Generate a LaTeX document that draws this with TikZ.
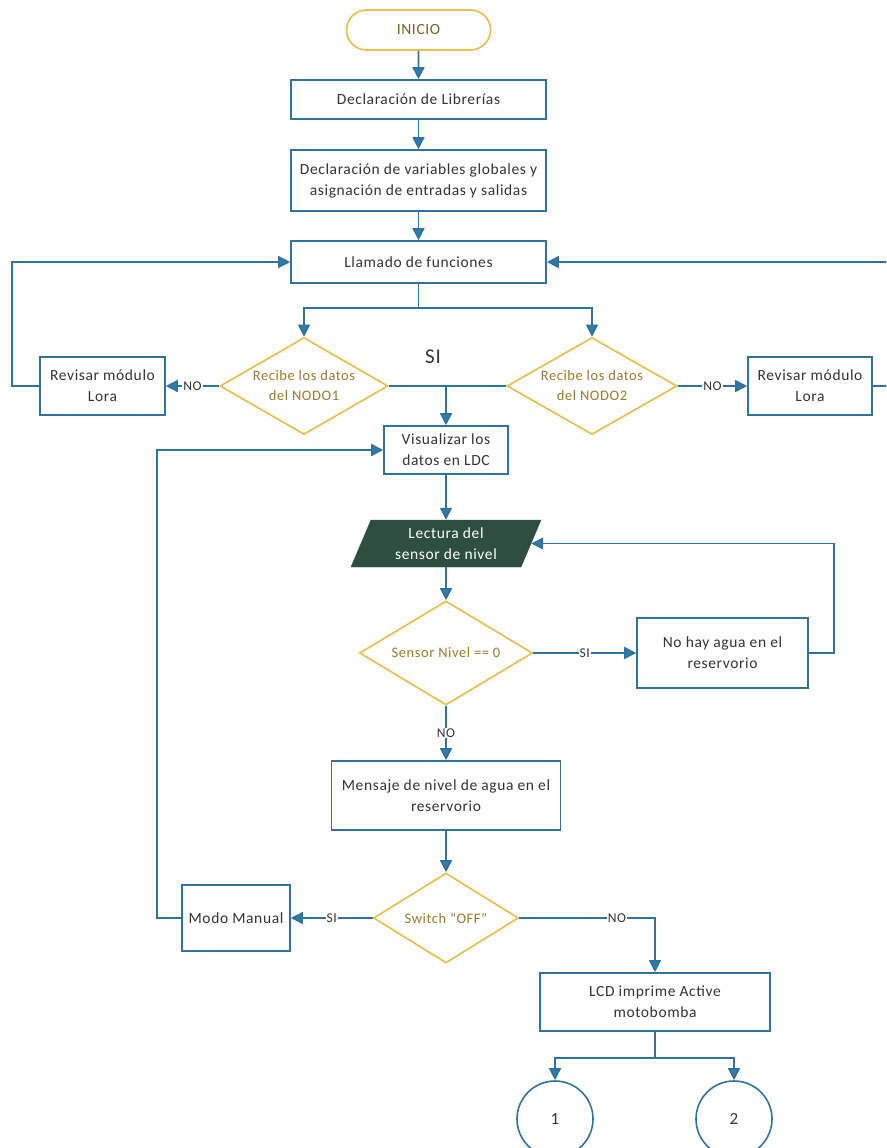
\documentclass[tikz,border=0pt]{standalone}
\usepackage{fontspec}
\setmainfont[LetterSpace=4]{Carlito}
\usetikzlibrary{shapes.geometric,shapes.misc,arrows.meta}
\definecolor{lineblue}{HTML}{31729A}
\definecolor{arrowblue}{HTML}{2D7BAE}
\definecolor{gold}{HTML}{E9BD4C}
\definecolor{goldtext}{HTML}{9C7A2C}
\definecolor{textgray}{HTML}{333333}
\definecolor{darkgreen}{HTML}{2E4F40}
\tikzset{
  base/.style={align=center, text=textgray, font=\fontsize{15.5}{21}\selectfont, inner sep=2pt},
  proc/.style={base, rectangle, draw=lineblue, line width=1.6pt, fill=white},
  dec/.style={base, diamond, draw=gold, line width=1.6pt, fill=white, text=goldtext, inner sep=0pt,
              font=\fontsize{14.5}{20}\selectfont},
  term/.style={base, rounded rectangle, draw=gold, line width=1.6pt, fill=white, text=goldtext!80!black},
  io/.style={base, trapezium, trapezium left angle=67, trapezium right angle=113,
             trapezium stretches=true, fill=darkgreen, draw=darkgreen, text=white, inner sep=0pt},
  conn/.style={base, ellipse, draw=lineblue, line width=1.6pt, fill=white, font=\fontsize{17}{20}\selectfont},
  arr/.style={draw=lineblue, line width=1.6pt, -{Triangle[length=12pt,width=12pt,fill=arrowblue]}},
  ln/.style={draw=lineblue, line width=1.6pt},
  lbl/.style={fill=white, text=textgray, inner sep=1pt, font=\fontsize{13.5}{14}\selectfont}
}
\begin{document}
\begin{tikzpicture}[x=1pt,y=-1pt]
\path[use as bounding box] (0,0) rectangle (886,1148);
\clip (0,0) rectangle (886,1148);
\fill[white] (0,0) rectangle (886,1148);

% main column
\node[term, minimum width=148, minimum height=40] (ini) at (418.5,30) {INICIO};
\node[proc, minimum width=255, minimum height=39] (lib) at (418.5,99.5) {Declaración de Librerías};
\node[proc, minimum width=255, minimum height=61] (var) at (418.5,180.5) {Declaración de variables globales y\\asignación de entradas y salidas};
\node[proc, minimum width=255, minimum height=42] (llam) at (418.5,262) {Llamado de funciones};

% node checks
\node[dec, aspect=1.73, minimum width=168, minimum height=97] (d1) at (304,386) {Recibe los datos\\del NODO1};
\node[dec, aspect=1.75, minimum width=170, minimum height=97] (d2) at (592,386) {Recibe los datos\\del NODO2};
\node[proc, minimum width=125, minimum height=58] (revL) at (102.5,386) {Revisar módulo\\Lora};
\node[proc, minimum width=124, minimum height=58] (revR) at (810,386) {Revisar módulo\\Lora};

\node[proc, minimum width=124, minimum height=48] (vis) at (446,450) {Visualizar los\\datos en LDC};
\node[io, minimum width=190, minimum height=47] (lect) at (446,543.5) {Lectura del\\sensor de nivel};
\node[dec, aspect=1.66, minimum width=173, minimum height=104] (d3) at (446,653) {Sensor Nivel == 0};
\node[proc, minimum width=171, minimum height=70] (agua) at (722.5,653) {No hay agua en el\\reservorio};
\node[proc, minimum width=229, minimum height=69] (msj) at (446,795.5) {Mensaje de nivel de agua en el\\reservorio};
\node[dec, aspect=1.61, minimum width=145, minimum height=90] (d4) at (446,918) {Switch “OFF”};
\node[proc, minimum width=108, minimum height=66] (man) at (236,918) {Modo Manual};
\node[proc, minimum width=230, minimum height=58] (lcd) at (655,1002) {LCD imprime Active\\motobomba};
\node[conn, minimum width=76, minimum height=76] (c1) at (555,1119) {1};
\node[conn, minimum width=76, minimum height=76] (c2) at (734,1119) {2};

% branch points
\coordinate (sp1) at (418.5,308);
\coordinate (sp2) at (655,1058);
\coordinate (si) at (446,386);
\coordinate (loopL) at (12,386);
\coordinate (loopR) at (892,386);
\coordinate (loopA) at (834,653);
\coordinate (loopM) at (157,918);

% straight flow
\draw[arr] (ini) -- (lib);
\draw[arr] (lib) -- (var);
\draw[arr] (var) -- (llam);
\draw[ln] (llam.south) -- (sp1);
\draw[arr] (sp1) -| (d1.north);
\draw[arr] (sp1) -| (d2.north);

% node checks: failure paths
\draw[arr] (d1.west) -- node[lbl]{NO} (revL.east);
\draw[arr] (d2.east) -- node[lbl]{NO} (revR.west);
\draw[arr] (revL.west) -- (loopL) |- (llam.west);
\draw[arr] (revR.east) -- (loopR) |- (llam.east);

% node checks: success path
\draw[ln] (d1.east) -- (d2.west);
\node[text=textgray, font=\fontsize{21}{22}\selectfont] (silbl) at (433,357) {SI};
\draw[arr] (si) -- (vis.north);

\draw[arr] (vis) -- (lect);
\draw[arr] (lect) -- (d3);
\draw[arr] (d3.east) -- node[lbl]{SI} (agua.west);
\draw[arr] (agua.east) -- (loopA) |- (lect.east);
\draw[arr] (d3.south) -- node[lbl]{NO} (msj.north);
\draw[arr] (msj) -- (d4);
\draw[arr] (d4.west) -- node[lbl]{SI} (man.east);
\draw[arr] (man.west) -- (loopM) |- (vis.west);
\draw[arr] (d4.east) -| node[lbl, pos=0.36]{NO} (lcd.north);
\draw[ln] (lcd.south) -- (sp2);
\draw[arr] (sp2) -| (c1.north);
\draw[arr] (sp2) -| (c2.north);
\end{tikzpicture}
\end{document}
